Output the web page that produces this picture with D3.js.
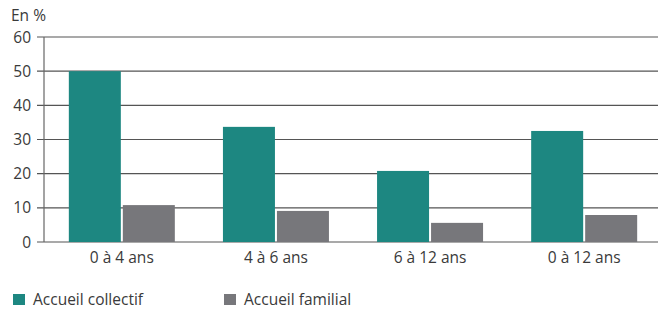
<!DOCTYPE html>
<html>
<head>
<meta charset="utf-8">
<script src="https://cdn.jsdelivr.net/npm/d3@7"></script>
<style>
  body { margin: 0; background: #fff; }
  text { font-family: "Open Sans", sans-serif; fill: #3a3a3a; }
</style>
</head>
<body>
<script>
// categories and series
var categories = ["0 à 4 ans", "4 à 6 ans", "6 à 12 ans", "0 à 12 ans"];
var collectif = [50, 33.7, 20.8, 32.5];
var familial = [10.8, 9.1, 5.6, 7.9];
var yTicks = [0, 10, 20, 30, 40, 50, 60];
var seriesNames = ["Accueil collectif", "Accueil familial"];

var colors = ["#1d8781", "#77777b"];

var width = 658, height = 310;
var margin = {top: 37, left: 44, bottom: 68};
var fs = 15.5;

var svg = d3.select("body").append("svg")
  .attr("width", width)
  .attr("height", height);

var x = d3.scaleBand()
  .domain(categories)
  .range([margin.left, 662])
  .paddingInner(0.31)
  .paddingOuter(0.16);

var y = d3.scaleLinear()
  .domain([0, 60])
  .range([242, 37]);

// gridlines
svg.append("g")
  .selectAll("line")
  .data(yTicks)
  .enter()
  .append("line")
  .attr("x1", margin.left - 7)
  .attr("x2", width)
  .attr("y1", function(d) { return y(d); })
  .attr("y2", function(d) { return y(d); })
  .attr("stroke", "#555")
  .attr("stroke-width", 1.2);

// y tick labels
svg.append("g")
  .selectAll("text")
  .data(yTicks)
  .enter()
  .append("text")
  .attr("x", 31)
  .attr("y", function(d) { return y(d); })
  .attr("dy", "0.36em")
  .attr("text-anchor", "end")
  .attr("font-size", fs)
  .text(function(d) { return d; });

svg.append("text")
  .attr("x", 11)
  .attr("y", 21)
  .attr("font-size", fs)
  .text("En %");

// bars
var bw = 52, gap = 2;
var groups = svg.append("g")
  .selectAll("g")
  .data(categories)
  .enter()
  .append("g");

groups.append("rect")
  .attr("x", function(d) { return x(d) + x.bandwidth() / 2 - bw - gap / 2; })
  .attr("y", function(d, i) { return y(collectif[i]); })
  .attr("width", bw)
  .attr("height", function(d, i) { return y(0) - y(collectif[i]); })
  .attr("fill", colors[0]);

groups.append("rect")
  .attr("x", function(d) { return x(d) + x.bandwidth() / 2 + gap / 2; })
  .attr("y", function(d, i) { return y(familial[i]); })
  .attr("width", bw)
  .attr("height", function(d, i) { return y(0) - y(familial[i]); })
  .attr("fill", colors[1]);

// y axis line
svg.append("line")
  .attr("x1", margin.left).attr("x2", margin.left)
  .attr("y1", y(60)).attr("y2", y(0))
  .attr("stroke", "#666")
  .attr("stroke-width", 1.2);

// x labels
svg.append("g")
  .selectAll("text")
  .data(categories)
  .enter()
  .append("text")
  .attr("x", function(d) { return x(d) + x.bandwidth() / 2; })
  .attr("y", 263)
  .attr("text-anchor", "middle")
  .attr("font-size", fs)
  .text(function(d) { return d; });

// legend
var legendX = [13, 224];
var legend = svg.append("g")
  .selectAll("g")
  .data(seriesNames)
  .enter()
  .append("g")
  .attr("transform", function(d, i) { return "translate(" + legendX[i] + ",294)"; });

legend.append("rect")
  .attr("width", 12)
  .attr("height", 11)
  .attr("fill", function(d, i) { return colors[i]; });

legend.append("text")
  .attr("x", 20)
  .attr("y", 11)
  .attr("font-size", fs)
  .text(function(d) { return d; });
</script>
</body>
</html>
